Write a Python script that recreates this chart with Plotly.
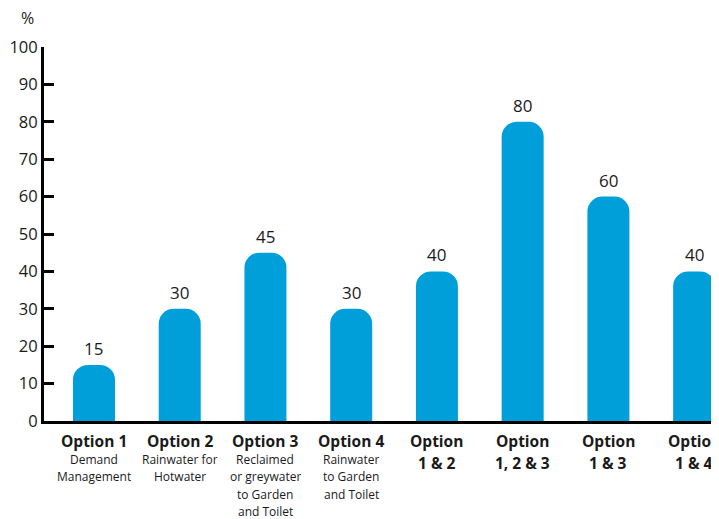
import plotly.graph_objects as go

categories = ["Option 1", "Option 2", "Option 3", "Option 4",
              "Option 1 & 2", "Option 1, 2 & 3", "Option 1 & 3", "Option 1 & 4"]
values = [15, 30, 45, 30, 40, 80, 60, 40]
main_labels = [["Option 1"], ["Option 2"], ["Option 3"], ["Option 4"],
               ["Option", "1 & 2"], ["Option", "1, 2 & 3"], ["Option", "1 & 3"], ["Option", "1 & 4"]]
sub_labels = [["Demand", "Management"], ["Rainwater for", "Hotwater"],
              ["Reclaimed", "or greywater", "to Garden", "and Toilet"],
              ["Rainwater", "to Garden", "and Toilet"], [], [], [], []]
y_ticks = [0, 10, 20, 30, 40, 50, 60, 70, 80, 90, 100]

FONT = "Open Sans"
BAR = "#009FDA"
INK = "#1a1a1a"

fig = go.Figure()
fig.add_trace(go.Bar(
    x=categories, y=values, width=0.49,
    marker=dict(color=BAR, line=dict(width=0), cornerradius=15),
    hoverinfo="skip",
))

anns = []
for c, v in zip(categories, values):
    anns.append(dict(x=c, y=v, xref="x", yref="y", text=str(v), showarrow=False,
                     yanchor="bottom", yshift=3, font=dict(family=FONT, size=17, color=INK)))
for c, mains, subs in zip(categories, main_labels, sub_labels):
    for k, line in enumerate(mains):
        anns.append(dict(x=c, y=0, xref="x", yref="paper", text="<b>" + line + "</b>",
                         showarrow=False, yanchor="middle", yshift=-20 - 22 * k,
                         font=dict(family=FONT, size=15.5, color=INK)))
    for k, line in enumerate(subs):
        anns.append(dict(x=c, y=0, xref="x", yref="paper", text=line,
                         showarrow=False, yanchor="middle", yshift=-38 - 17.3 * k,
                         height=16, font=dict(family=FONT, size=12, color=INK)))
anns.append(dict(xref="x domain", yref="y domain", x=-0.024, y=1.078, text="%",
                 showarrow=False, xanchor="center", yanchor="middle", height=18,
                 font=dict(family=FONT, size=16, color=INK)))

fig.update_layout(
    width=711, height=511,
    margin=dict(l=36, r=0, t=39, b=98),
    paper_bgcolor="white", plot_bgcolor="white",
    showlegend=False,
    font=dict(family=FONT, color=INK),
    annotations=anns,
    xaxis=dict(range=[-0.583, 7.29], showticklabels=False, showline=True,
               linecolor="black", linewidth=3, ticks="", showgrid=False, zeroline=False,
               fixedrange=True, automargin=False),
    yaxis=dict(range=[0, 100], tickvals=y_ticks, showline=True, linecolor="black",
               linewidth=3, ticks="inside", ticklen=10, tickwidth=3, tickcolor="black",
               showgrid=False, zeroline=False, ticklabelstandoff=0,
               tickfont=dict(family=FONT, size=16.5, color=INK), fixedrange=True,
               automargin=False),
    bargap=0.5,
)

fig.write_html("out.html", config={"displayModeBar": False})
